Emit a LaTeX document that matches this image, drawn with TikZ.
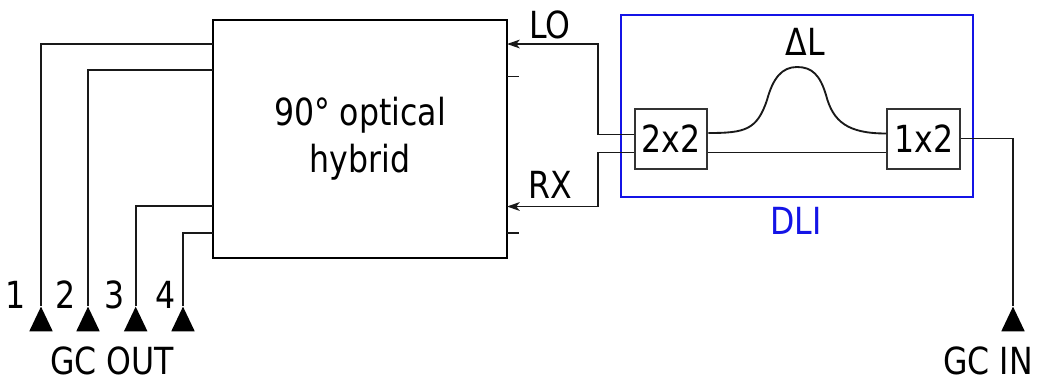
\documentclass[tikz,border=0pt]{standalone}
\usepackage{fontspec}
\setmainfont[FakeStretch=0.94]{DejaVu Sans Condensed}
\usepackage{xcolor}
\usetikzlibrary{arrows.meta,positioning,calc,shapes.geometric}
\definecolor{dliblue}{RGB}{20,20,230}

\begin{document}
\begin{tikzpicture}[
  x=0.75pt,y=-0.75pt,
  font=\fontsize{28pt}{35pt}\selectfont,
  wire/.style={line width=1.4pt,black!90},
  box/.style={draw=black!80,line width=1.5pt,minimum width=54.6pt,minimum height=45pt,inner sep=0pt},
  hyb/.style={draw=black,line width=1.5pt,minimum width=220pt,minimum height=178.5pt,align=center,inner sep=0pt},
  dlibox/.style={draw=dliblue,line width=1.5pt,minimum width=264pt,minimum height=136.5pt,inner sep=0pt},
  gc/.style={isosceles triangle,isosceles triangle apex angle=51,isosceles triangle stretches,
             shape border rotate=90,fill=black,inner sep=0pt,minimum height=18.5pt,minimum width=17.6pt,anchor=apex},
  flow/.style={wire,-{Stealth[length=9.5pt,width=6.5pt,inset=2.5pt]}},
  lbl/.style={inner sep=0pt},
]
\useasboundingbox (0,0) rectangle (1038,380);

% optical hybrid
\node[hyb] (hybrid) at (360,138.5) {90° optical\\hybrid};

% DLI
\node[dlibox] (dli) at (797.3,106) {};
\node[box] (cpl) at (671,139) {2x2};
\node[box,right=133.4pt of cpl] (split) {1x2};
\node[lbl,text=dliblue] (dlilbl) at (796,221) {DLI};
\node[lbl] (dl) at (805,42) {ΔL};
\coordinate (su) at ($(split.west)+(0,-5.5)$);
\coordinate (cu) at ($(cpl.east)+(0,-6)$);
\coordinate (peak) at (797,67);
\draw[wire] (cu) .. controls (745,133) and (757,130) .. (767,100)
  .. controls (773,78) and (782,67) .. (peak)
  .. controls (812,67) and (820,75) .. (826,95)
  .. controls (833,122) and (848,133.5) .. (su);
\draw[wire] ($(cpl.east)+(0,13.5)$) coordinate (cl) -- (cl -| split.west);

% hybrid ports, right side
\coordinate (lo) at (507,44);
\coordinate (rx) at (507,206.5);
\coordinate (t1) at (507,76.5);
\coordinate (t2) at (507,233);
\coordinate (cin1) at ($(cpl.west)+(0,-4.5)$);
\coordinate (cin2) at ($(cpl.west)+(0,13.5)$);
\draw[wire] (t1) -- ++(12,0);
\draw[wire] (t2) -- ++(12,0);
\draw[flow] (cin1) -- (597.7,134.5) |- (lo);
\draw[flow] (cin2) -- (597.7,152.5) |- (rx);
\node[lbl] (lolbl) at (550,25) {LO};
\node[lbl] (rxlbl) at (550,185) {RX};

% grating couplers
\node[gc] (gc1) at (41,306) {};
\node[gc] (gc2) at (88,306) {};
\node[gc] (gc3) at (135.7,306) {};
\node[gc] (gc4) at (183,306) {};
\node[gc] (gcin) at (1013,306) {};
\node[lbl] (n1) at (15.5,295) {1};
\node[lbl] (n2) at (66,295) {2};
\node[lbl] (n3) at (115,295) {3};
\node[lbl] (n4) at (166,295) {4};
\node[lbl] (gcout) at (112,361) {GC OUT};
\node[lbl] (gcinlbl) at (988,361) {GC IN};

\coordinate (p1) at (213,44);
\coordinate (p2) at (213,70);
\coordinate (p3) at (213,206);
\coordinate (p4) at (213,233);
\draw[wire] (p1) -| (gc1.apex);
\draw[wire] (p2) -| (gc2.apex);
\draw[wire] (p3) -| (gc3.apex);
\draw[wire] (p4) -| (gc4.apex);
\draw[wire] ($(split.east)+(0,-0.5)$) coordinate (sout) -| (gcin.apex);
\end{tikzpicture}
\end{document}
